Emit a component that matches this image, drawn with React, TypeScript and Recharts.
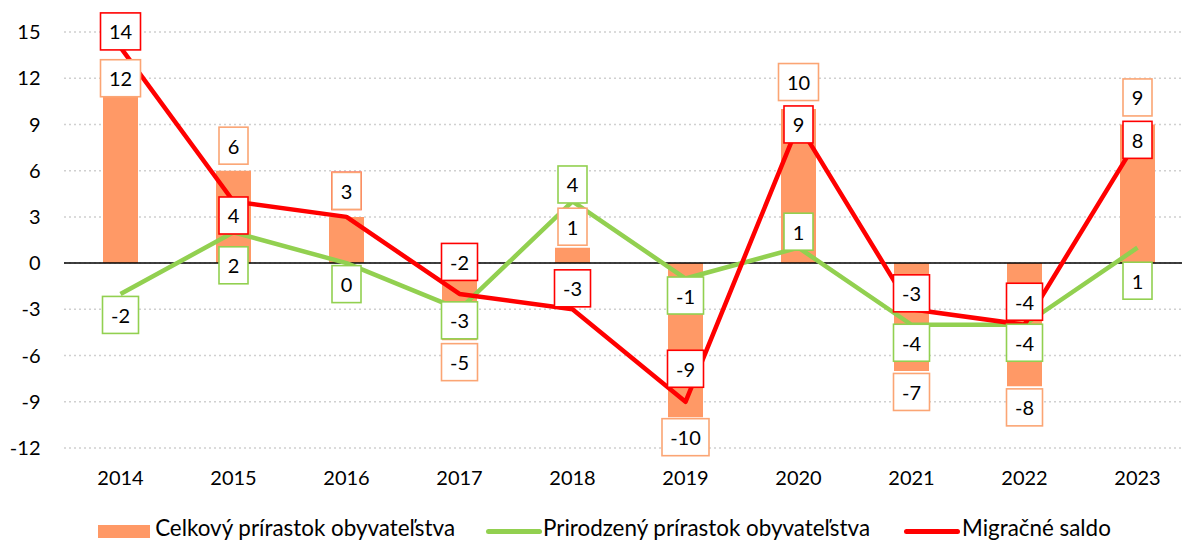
import React from 'react';
import { ComposedChart, Bar, Line, XAxis, YAxis, CartesianGrid, ReferenceLine, Legend, LabelList } from 'recharts';

// ---- data ----
const YEARS = ['2014', '2015', '2016', '2017', '2018', '2019', '2020', '2021', '2022', '2023'];
const TOTAL = [12, 6, 3, -5, 1, -10, 10, -7, -8, 9];
const NATURAL = [-2, 2, 0, -3, 4, -1, 1, -4, -4, 1];
const MIGRATION = [14, 4, 3, -2, -3, -9, 9, -3, -4, 8];
const Y_TICKS = [-12, -9, -6, -3, 0, 3, 6, 9, 12, 15];

const SERIES_NAMES = ['Celkový prírastok obyvateľstva', 'Prirodzený prírastok obyvateľstva', 'Migračné saldo'];

// ---- label layout (vertical offset of label box centre from the point) ----
const BAR_LABEL_DY = [0, -25, -26, 22, -21, 20, -27, 21, 21, -27];
const GREEN_LABEL_DY = [21, 33, 21, 11, -17, 17, -16, 18, 18, 33];
const RED_LABEL_DY = [-16, 14, -26, -32, -21, -33, 0, -16, -23, 0];

const ORANGE = '#FF9966';
const ORANGE_BORDER = '#FBA574';
const GREEN = '#92D050';
const RED = '#FF0000';
const FONT = 'Lato, "Open Sans", sans-serif';

const data = YEARS.map((y, i) => ({
  year: y,
  total: TOTAL[i],
  natural: NATURAL[i],
  migration: MIGRATION[i],
}));

const textWidth = (s: string) => {
  let w = 0;
  for (const c of s) w += c === '-' ? 7 : 11;
  return w;
};

const makeLabel = (border: string, dys: number[]) => (props: any) => {
  const { x, y, value, index } = props;
  if (x == null || y == null) return null;
  const s = String(value);
  const w = textWidth(s) + 18;
  const h = 37;
  const cy = y + (dys[index] ?? 0);
  return (
    <g>
      <rect x={x - w / 2} y={cy - h / 2} width={w} height={h} fill="#fff" stroke={border} strokeWidth={1.6} />
      <text x={x} y={cy} textAnchor="middle" dominantBaseline="central" fontSize={20} fontFamily={FONT} fill="#000">
        {s}
      </text>
    </g>
  );
};

const renderLegend = () => (
  <div
    style={{
      display: 'flex',
      justifyContent: 'center',
      alignItems: 'center',
      fontFamily: FONT,
      fontSize: 22.4,
      lineHeight: '26px',
      color: '#000',
      paddingLeft: 15,
      paddingTop: 1,
      whiteSpace: 'nowrap',
    }}
  >
    <div style={{ display: 'flex', alignItems: 'center', marginRight: 31 }}>
      <span style={{ display: 'inline-block', width: 52, height: 13, background: ORANGE, marginRight: 5, marginTop: 7 }} />
      <span>{SERIES_NAMES[0]}</span>
    </div>
    <div style={{ display: 'flex', alignItems: 'center', marginRight: 34 }}>
      <span style={{ display: 'inline-block', width: 56, height: 5, borderRadius: 3, background: GREEN, marginRight: 1, marginTop: 7 }} />
      <span>{SERIES_NAMES[1]}</span>
    </div>
    <div style={{ display: 'flex', alignItems: 'center' }}>
      <span style={{ display: 'inline-block', width: 56, height: 5, borderRadius: 3, background: RED, marginRight: 2, marginTop: 7 }} />
      <span>{SERIES_NAMES[2]}</span>
    </div>
  </div>
);

export default function App() {
  return (
    <div style={{ position: 'absolute', left: 0, top: 0, width: 1182, height: 540, overflow: 'hidden', background: '#fff' }}>
      <ComposedChart
        width={1194}
        height={540}
        data={data}
        margin={{ top: 32, right: 0, bottom: 0, left: 0 }}
        barSize={35}
        style={{ fontFamily: FONT }}
      >
        <CartesianGrid vertical={false} stroke="#D0D0D0" strokeDasharray="2 3" strokeWidth={1.5} />
        <XAxis
          dataKey="year"
          axisLine={false}
          tickLine={false}
          tickMargin={17}
          height={66}
          tick={{ fontSize: 20, fill: '#000', fontFamily: FONT }}
          interval={0}
        />
        <YAxis
          domain={[-12, 15]}
          ticks={Y_TICKS}
          interval={0}
          axisLine={false}
          tickLine={false}
          width={64}
          tickMargin={17.5}
          tick={{ fontSize: 20, fill: '#000', fontFamily: FONT }}
        />
        <Legend verticalAlign="bottom" height={26} content={renderLegend} />
        <Bar dataKey="total" name={SERIES_NAMES[0]} fill={ORANGE} isAnimationActive={false} />
        <ReferenceLine y={0} stroke="#000" strokeWidth={1.5} />
        <Line
          type="linear"
          dataKey="natural"
          name={SERIES_NAMES[1]}
          stroke={GREEN}
          strokeWidth={4.5}
          strokeLinejoin="round"
          dot={false}
          activeDot={false}
          isAnimationActive={false}
        />
        <Line
          type="linear"
          dataKey="migration"
          name={SERIES_NAMES[2]}
          stroke={RED}
          strokeWidth={4.5}
          strokeLinejoin="round"
          dot={false}
          activeDot={false}
          isAnimationActive={false}
        />
        {/* label layers, drawn above all marks */}
        <Line dataKey="natural" stroke="none" dot={false} activeDot={false} legendType="none" isAnimationActive={false}>
          <LabelList dataKey="natural" content={makeLabel(GREEN, GREEN_LABEL_DY)} />
        </Line>
        <Line dataKey="migration" stroke="none" dot={false} activeDot={false} legendType="none" isAnimationActive={false}>
          <LabelList dataKey="migration" content={makeLabel(RED, RED_LABEL_DY)} />
        </Line>
        <Line dataKey="total" stroke="none" dot={false} activeDot={false} legendType="none" isAnimationActive={false}>
          <LabelList dataKey="total" content={makeLabel(ORANGE_BORDER, BAR_LABEL_DY)} />
        </Line>
      </ComposedChart>
    </div>
  );
}
